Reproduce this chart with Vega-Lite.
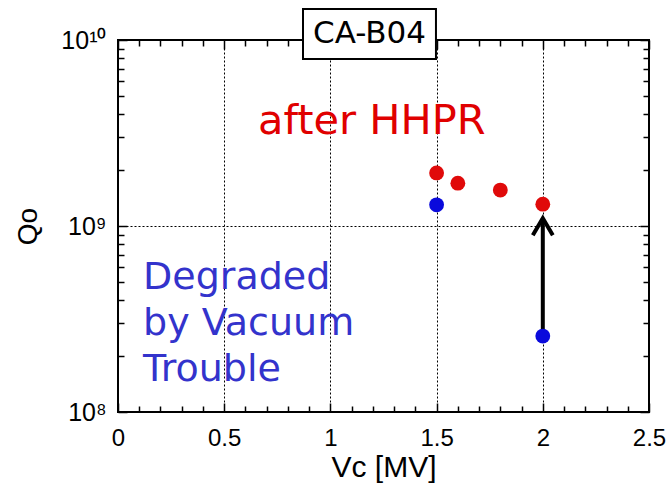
{
  "$schema": "https://vega.github.io/schema/vega-lite/v6.json",
  "autosize": "none",
  "width": 531,
  "height": 372,
  "padding": {"left": 118, "top": 40, "right": 18, "bottom": 73},
  "background": "white",
  "config": {
    "view": {"stroke": "black", "strokeWidth": 2},
    "axis": {"domain": false, "labelFont": "Liberation Sans", "titleFont": "Liberation Sans", "labelColor": "black", "titleColor": "black", "titleFontWeight": "normal"}
  },
  "resolve": {"axis": {"x": "independent", "y": "independent"}},
  "layer": [
    {
      "data": {"values": [{"x": 2.0, "y": 2.56e8, "y2": 1.1e9}]},
      "mark": {"type": "rule", "color": "black", "strokeWidth": 4},
      "encoding": {
        "x": {"field": "x", "type": "quantitative", "scale": {"domain": [0, 2.5], "nice": false, "zero": false},
          "axis": {"orient": "top", "offset": -372, "values": [0.1, 0.2, 0.3, 0.4, 0.6, 0.7, 0.8, 0.9, 1.1, 1.2, 1.3, 1.4, 1.6, 1.7, 1.8, 1.9, 2.1, 2.2, 2.3, 2.4], "labels": false, "ticks": true, "tickColor": "black", "tickSize": 6, "tickWidth": 1.5, "grid": false, "title": null}},
        "y": {"field": "y", "type": "quantitative", "scale": {"type": "log", "domain": [1e8, 1e10], "nice": false},
          "axis": {"orient": "right", "offset": -531, "values": [2e8, 3e8, 4e8, 5e8, 6e8, 7e8, 8e8, 9e8, 2e9, 3e9, 4e9, 5e9, 6e9, 7e9, 8e9, 9e9], "labels": false, "ticks": true, "tickColor": "black", "tickSize": 6, "tickWidth": 1.5, "grid": false, "title": null}},
        "y2": {"field": "y2"}
      }
    },
    {
      "data": {"values": [{"x": 2.0, "y": 1.1e9}]},
      "mark": {"type": "point", "shape": "M-1,1.7L0,0L1,1.7", "size": 400, "filled": false, "stroke": "black", "strokeWidth": 4, "opacity": 1, "strokeJoin": "miter"},
      "encoding": {
        "x": {"field": "x", "type": "quantitative",
          "axis": {"orient": "bottom", "values": [0.5, 1, 1.5, 2], "labels": false, "ticks": false, "grid": true, "gridColor": "black", "gridDash": [2, 2], "gridWidth": 1, "gridOpacity": 1, "title": null}},
        "y": {"field": "y", "type": "quantitative",
          "axis": {"orient": "left", "values": [1e9], "labels": false, "ticks": false, "grid": true, "gridColor": "black", "gridDash": [2, 2], "gridWidth": 1, "gridOpacity": 1, "title": null}}
      }
    },
    {
      "data": {"values": [
        {"x": 1.5, "y": 1.93e9, "g": "after"},
        {"x": 1.6, "y": 1.70e9, "g": "after"},
        {"x": 1.8, "y": 1.56e9, "g": "after"},
        {"x": 2.0, "y": 1.31e9, "g": "after"},
        {"x": 1.5, "y": 1.30e9, "g": "before"},
        {"x": 2.0, "y": 2.56e8, "g": "before"}
      ]},
      "mark": {"type": "circle", "size": 220, "opacity": 1},
      "encoding": {
        "x": {"field": "x", "type": "quantitative",
          "axis": {"orient": "bottom", "values": [0, 0.5, 1, 1.5, 2, 2.5], "format": "~g", "ticks": false, "grid": false, "labelFontSize": 24, "labelPadding": 14, "labelFlush": false, "title": "Vc [MV]", "titleFontSize": 30, "titlePadding": 2}},
        "y": {"field": "y", "type": "quantitative",
          "axis": {"orient": "left", "values": [1e8, 1e9, 1e10], "ticks": false, "grid": false, "labelFontSize": 25, "labelPadding": 12, "labelFlush": false, "labelExpr": "datum.value == 1e10 ? '10¹⁰' : datum.value == 1e9 ? '10⁹' : '10⁸'", "title": "Qo", "titleFontSize": 28, "titlePadding": 18}},
        "color": {"field": "g", "type": "nominal", "scale": {"domain": ["after", "before"], "range": ["#e00a0a", "#0a0adc"]}, "legend": null}
      }
    },
    {
      "data": {"values": [{"x": 0.871, "x2": 1.497, "y": 1.468e10, "y2": 7.91e9}]},
      "mark": {"type": "rect", "fill": "white", "stroke": "black", "strokeWidth": 2},
      "encoding": {
        "x": {"field": "x", "type": "quantitative",
          "axis": {"orient": "top", "offset": -372, "values": [0, 0.5, 1, 1.5, 2, 2.5], "labels": false, "ticks": true, "tickColor": "black", "tickSize": 9, "tickWidth": 1.5, "grid": false, "title": null}},
        "x2": {"field": "x2"},
        "y": {"field": "y", "type": "quantitative",
          "axis": {"orient": "right", "offset": -531, "values": [1e8, 1e9, 1e10], "labels": false, "ticks": true, "tickColor": "black", "tickSize": 9, "tickWidth": 1.5, "grid": false, "title": null}},
        "y2": {"field": "y2"}
      }
    },
    {
      "data": {"values": [{"x": 1.184, "y": 1.077e10, "t": "CA-B04"}]},
      "mark": {"type": "text", "font": "DejaVu Sans", "fontSize": 31, "color": "black", "align": "center", "baseline": "middle"},
      "encoding": {
        "x": {"field": "x", "type": "quantitative",
          "axis": {"orient": "bottom", "offset": -372, "values": [0.1, 0.2, 0.3, 0.4, 0.6, 0.7, 0.8, 0.9, 1.1, 1.2, 1.3, 1.4, 1.6, 1.7, 1.8, 1.9, 2.1, 2.2, 2.3, 2.4], "labels": false, "ticks": true, "tickColor": "black", "tickSize": 6, "tickWidth": 1.5, "grid": false, "title": null}},
        "y": {"field": "y", "type": "quantitative",
          "axis": {"orient": "left", "offset": -531, "values": [2e8, 3e8, 4e8, 5e8, 6e8, 7e8, 8e8, 9e8, 2e9, 3e9, 4e9, 5e9, 6e9, 7e9, 8e9, 9e9], "labels": false, "ticks": true, "tickColor": "black", "tickSize": 6, "tickWidth": 1.5, "grid": false, "title": null}},
        "text": {"field": "t"}
      }
    },
    {
      "data": {"values": [{"x": 0.659, "y": 3.13e9, "t": "after HHPR"}]},
      "mark": {"type": "text", "font": "DejaVu Sans", "fontSize": 41.5, "color": "#e00000", "align": "left", "baseline": "alphabetic"},
      "encoding": {
        "x": {"field": "x", "type": "quantitative",
          "axis": {"orient": "bottom", "offset": -372, "values": [0, 0.5, 1, 1.5, 2, 2.5], "labels": false, "ticks": true, "tickColor": "black", "tickSize": 9, "tickWidth": 1.5, "grid": false, "title": null}},
        "y": {"field": "y", "type": "quantitative",
          "axis": {"orient": "left", "offset": -531, "values": [1e8, 1e9, 1e10], "labels": false, "ticks": true, "tickColor": "black", "tickSize": 9, "tickWidth": 1.5, "grid": false, "title": null}},
        "text": {"field": "t"}
      }
    },
    {
      "data": {"values": [
        {"x": 0.118, "y": 4.58e8, "t": "Degraded"},
        {"x": 0.118, "y": 2.59e8, "t": "by Vacuum"},
        {"x": 0.118, "y": 1.47e8, "t": "Trouble"}
      ]},
      "mark": {"type": "text", "font": "DejaVu Sans", "fontSize": 38, "color": "#3333cc", "align": "left", "baseline": "alphabetic"},
      "encoding": {
        "x": {"field": "x", "type": "quantitative", "axis": null},
        "y": {"field": "y", "type": "quantitative", "axis": null},
        "text": {"field": "t"}
      }
    }
  ]
}
